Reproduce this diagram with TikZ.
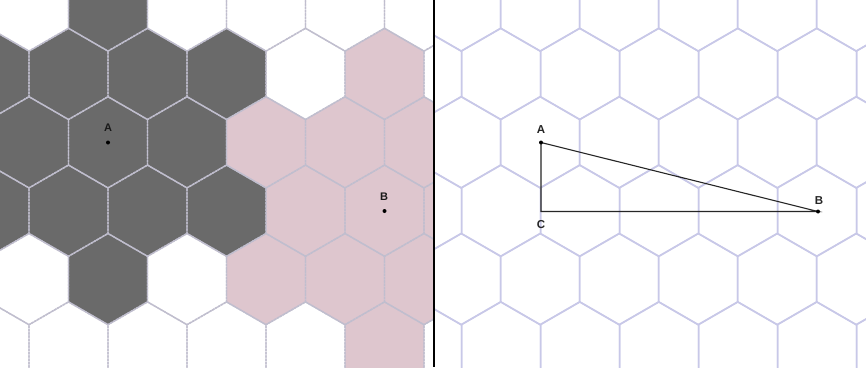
\documentclass[tikz,border=0pt]{standalone}
\usepackage{fontspec}
\setmainfont{Liberation Sans}
\definecolor{darkhex}{RGB}{106,106,106}
\definecolor{pinkhex}{RGB}{222,198,206}
\definecolor{lline}{RGB}{192,190,206}
\definecolor{rline}{RGB}{200,200,232}
\tikzset{
  hexa/.pic={\path[pic actions] (0,-45.6) -- (39.5,-22.8) -- (39.5,22.8) -- (0,45.6) -- (-39.5,22.8) -- (-39.5,-22.8) -- cycle;},
  leftedge/.style={draw=lline, line width=1.4pt, dash pattern=on 2.5pt off 0.8pt},
  rightedge/.style={draw=rline, line width=1.5pt},
  ptdot/.style={circle, fill=black, inner sep=0pt, minimum size=4pt},
  llabel/.style={font=\bfseries\fontsize{11}{13}\selectfont, text=black!90},
  rlabel/.style={font=\bfseries\fontsize{11.5}{13}\selectfont, text=black!85},
  triline/.style={draw=black!85, line width=1.1pt}
}
\begin{document}
\begin{tikzpicture}[x=1pt,y=-1pt]
\useasboundingbox (0,0) rectangle (866,367);
\fill[white] (0,0) rectangle (866,367);
% ---------- left panel ----------
\begin{scope}
\clip (0,0) rectangle (433,367);
\foreach \r/\k in {0/1,1/0,1/1,1/2,1/3,2/0,2/1,2/2,3/0,3/1,3/2,3/3,4/1} {
  \pgfmathsetmacro\yy{5.5+68.4*\r}
  \pgfmathsetmacro\xx{ifthenelse(mod(\r,2)==0,29,-10.5)+79*\k}
  \pic[fill=darkhex] at (\xx,\yy) {hexa};
}
\foreach \r/\k in {1/5,2/3,2/4,2/5,3/4,3/5,3/6,4/3,4/4,4/5,5/5} {
  \pgfmathsetmacro\yy{5.5+68.4*\r}
  \pgfmathsetmacro\xx{ifthenelse(mod(\r,2)==0,29,-10.5)+79*\k}
  \pic[fill=pinkhex] at (\xx,\yy) {hexa};
}
\foreach \r in {0,...,5} {
  \foreach \k in {0,...,6} {
    \pgfmathsetmacro\yy{5.5+68.4*\r}
    \pgfmathsetmacro\xx{ifthenelse(mod(\r,2)==0,29,-10.5)+79*\k}
    \pic[leftedge] at (\xx,\yy) {hexa};
  }
}
\end{scope}
\node[ptdot] (lA) at (108,142.5) {};
\node[llabel] (lAl) at (108,127.5) {A};
\node[ptdot] (lB) at (384.5,211) {};
\node[llabel] (lBl) at (384,197) {B};
% ---------- right panel ----------
\begin{scope}
\clip (435,0) rectangle (866,367);
\foreach \r in {0,...,5} {
  \foreach \k in {0,...,6} {
    \pgfmathsetmacro\yy{5.5+68.4*\r}
    \pgfmathsetmacro\xx{ifthenelse(mod(\r,2)==0,382,422)+79*\k}
    \pic[rightedge] at (\xx,\yy) {hexa};
  }
}
\end{scope}
% divider
\draw[black, line width=2pt] (434,0) -- (434,367);
% triangle
\coordinate (A) at (541,142.5);
\coordinate (C) at (541,211.5);
\coordinate (B) at (818,211.5);
\draw[triline] (A) -- (C) -- (B) -- cycle;
\node[ptdot] (Ad) at (A) {};
\node[ptdot] (Bd) at (B) {};
\node[rlabel] (Al) at (541,130) {A};
\node[rlabel] (Bl) at (819,201) {B};
\node[rlabel] (Cl) at (541,225) {C};
\end{tikzpicture}
\end{document}
